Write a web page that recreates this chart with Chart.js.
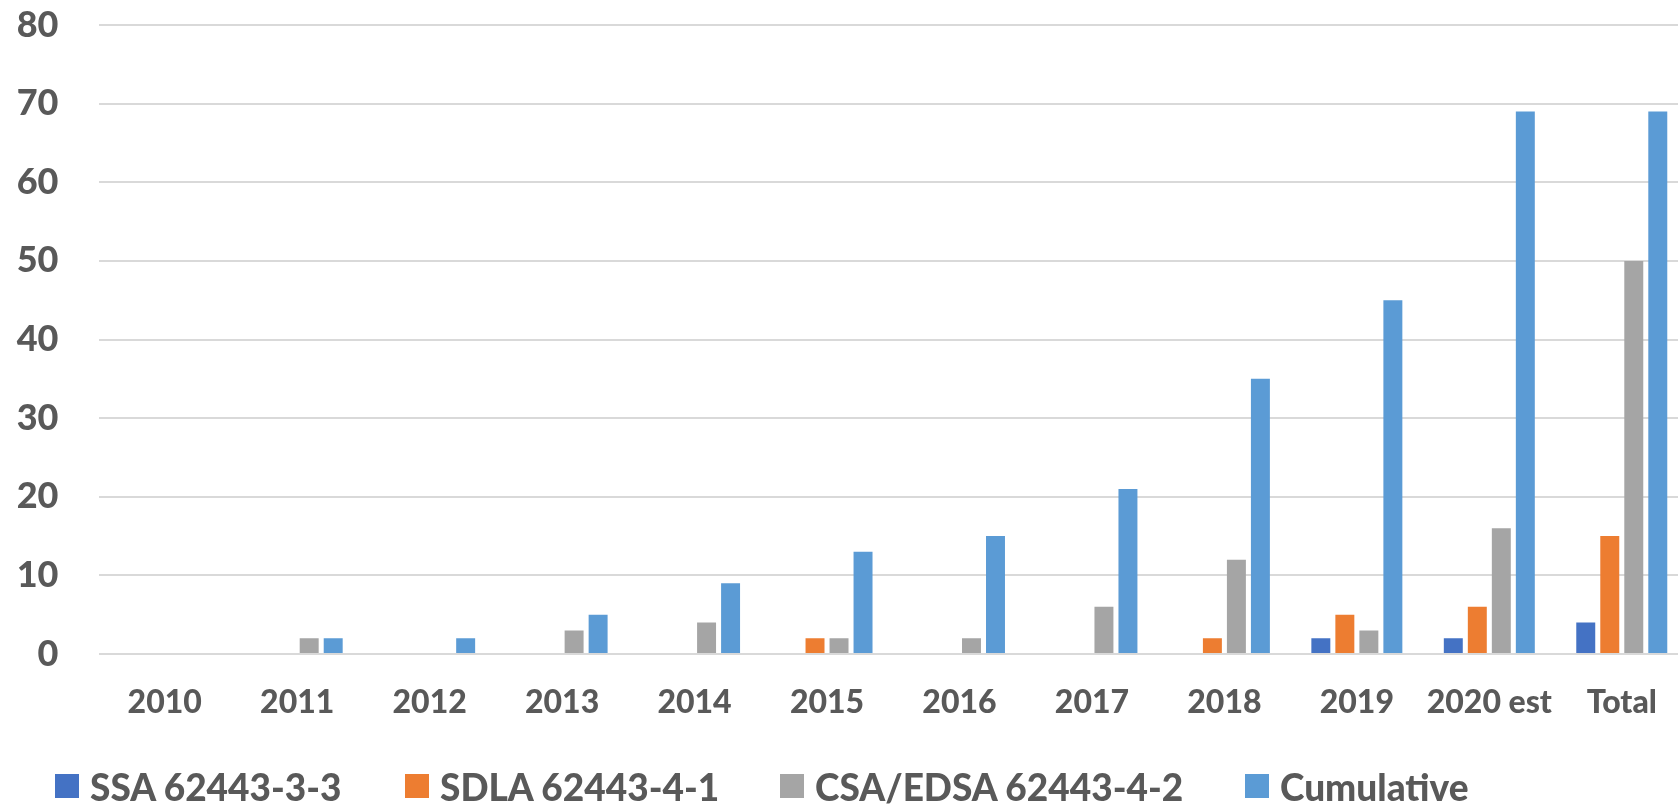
<!DOCTYPE html>
<html>
<head>
<meta charset="utf-8">
<script src="https://cdn.jsdelivr.net/npm/chart.js@4.4.1/dist/chart.umd.min.js"></script>
<style>
html,body{margin:0;padding:0;background:#fff;overflow:hidden;}
#wrap{width:1678px;height:806px;position:relative;overflow:hidden;}
#c{position:absolute;left:0;top:0;width:1688px;height:806px;}
#legend{position:absolute;left:0;top:766px;width:1678px;height:40px;}
.item{position:absolute;top:0;height:40px;display:flex;align-items:center;white-space:nowrap;
  font-family:Lato,'Open Sans',sans-serif;font-weight:900;font-size:37px;color:#595959;}
.box{width:24px;height:24px;margin-right:11px;flex:none;}
</style>
</head>
<body>
<div id="wrap">
  <canvas id="c" width="1688" height="806"></canvas>
  <div id="legend"></div>
</div>
<script>
const categories = ["2010","2011","2012","2013","2014","2015","2016","2017","2018","2019","2020 est","Total"];
const ssa        = [0,0,0,0,0,0,0,0,0,2,2,4];
const sdla       = [0,0,0,0,0,2,0,0,2,5,6,15];
const csa        = [0,2,0,3,4,2,2,6,12,3,16,50];
const cumulative = [0,2,2,5,9,13,15,21,35,45,69,69];
const seriesNames = ["SSA 62443-3-3","SDLA 62443-4-1","CSA/EDSA 62443-4-2","Cumulative"];
const yTicks = [0,10,20,30,40,50,60,70,80];

const colors = ["#4472C4","#ED7D31","#A5A5A5","#5B9BD5"];
const txt = "#595959";
const fam = "Lato, 'Open Sans', sans-serif";
const legendLeft = [55, 405, 780, 1245];

const datasets = [ssa, sdla, csa, cumulative].map((d,i)=>({
  label: seriesNames[i],
  data: d,
  backgroundColor: colors[i],
  borderWidth: 0,
  categoryPercentage: 0.725,
  barPercentage: 0.79
}));

const chart = new Chart(document.getElementById('c'), {
  type: 'bar',
  data: { labels: categories, datasets },
  options: {
    responsive: false,
    animation: false,
    devicePixelRatio: 1,
    layout: { padding: { left: 0, right: 0, top: 0, bottom: 83.5 } },
    plugins: {
      tooltip: { enabled: false },
      legend: { display: false }
    },
    scales: {
      x: {
        grid: { display: false, drawTicks: false },
        border: { display: false },
        ticks: { color: txt, font: { family: fam, weight: '900', size: 32 }, padding: 29, maxRotation: 0, autoSkip: false },
        afterFit: (ax) => { ax.height = 68.5; ax.paddingLeft = 0; ax.paddingRight = 0; }
      },
      y: {
        min: 0, max: 80,
        afterBuildTicks: (ax) => { ax.ticks = yTicks.map(v => ({ value: v })); },
        grid: { color: "#D9D9D9", lineWidth: 2, drawTicks: false },
        border: { display: false },
        ticks: { color: txt, font: { family: fam, weight: '900', size: 36 }, padding: 40 },
        afterFit: (ax) => { ax.width = 98.5; ax.paddingTop = 25; ax.paddingBottom = 0; }
      }
    }
  }
});

// Legend built from the chart's own datasets
const lg = document.getElementById('legend');
chart.data.datasets.forEach((ds, i) => {
  const it = document.createElement('div');
  it.className = 'item';
  it.style.left = legendLeft[i] + 'px';
  const b = document.createElement('span');
  b.className = 'box';
  b.style.background = ds.backgroundColor;
  const t = document.createElement('span');
  t.textContent = ds.label;
  it.appendChild(b); it.appendChild(t);
  lg.appendChild(it);
});
</script>
</body>
</html>
